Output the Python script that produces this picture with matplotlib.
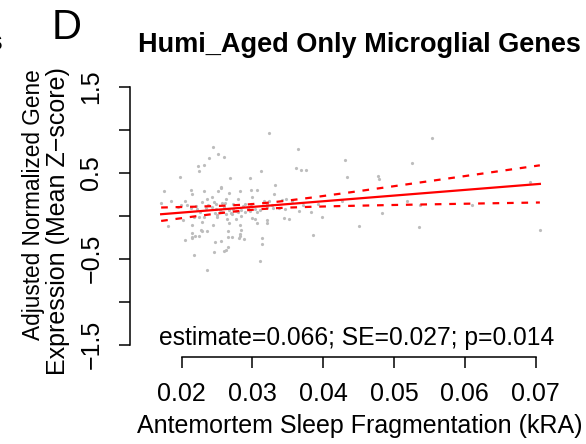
import numpy as np
import matplotlib
matplotlib.use("Agg")
import matplotlib.pyplot as plt

plt.rcParams['font.family'] = ['Liberation Sans', 'DejaVu Sans']
plt.rcParams['lines.scale_dashes'] = False

# ---- data -------------------------------------------------------------
sleep_frag = [
    0.0323, 0.0244, 0.0365, 0.0252, 0.0260, 0.0239, 0.0223, 0.0231, 0.0225, 0.0361,
    0.0369, 0.0376, 0.0312, 0.0431, 0.0197, 0.0268, 0.0297, 0.0434, 0.0332, 0.0256,
    0.0255, 0.0175, 0.0213, 0.0215, 0.0231, 0.0251, 0.0282, 0.0298, 0.0306, 0.0267,
    0.0243, 0.0236, 0.0300, 0.0331, 0.0171, 0.0185, 0.0205, 0.0229, 0.0245, 0.0262,
    0.0279, 0.0317, 0.0323, 0.0342, 0.0348, 0.0356, 0.0199, 0.0207, 0.0220, 0.0237,
    0.0248, 0.0257, 0.0261, 0.0273, 0.0289, 0.0286, 0.0298, 0.0321, 0.0327, 0.0393,
    0.0426, 0.0195, 0.0213, 0.0221, 0.0234, 0.0243, 0.0248, 0.0254, 0.0260, 0.0267,
    0.0273, 0.0277, 0.0284, 0.0293, 0.0304, 0.0311, 0.0321, 0.0329, 0.0337, 0.0346,
    0.0372, 0.0226, 0.0247, 0.0250, 0.0257, 0.0263, 0.0269, 0.0280, 0.0289, 0.0297,
    0.0306, 0.0366, 0.0383, 0.0180, 0.0202, 0.0218, 0.0225, 0.0232, 0.0229, 0.0250,
    0.0264, 0.0271, 0.0277, 0.0284, 0.0299, 0.0304, 0.0306, 0.0320, 0.0321, 0.0345,
    0.0351, 0.0398, 0.0214, 0.0244, 0.0267, 0.0283, 0.0227, 0.0229, 0.0236, 0.0284,
    0.0214, 0.0214, 0.0215, 0.0219, 0.0225, 0.0266, 0.0266, 0.0271, 0.0282, 0.0283,
    0.0281, 0.0288, 0.0313, 0.0205, 0.0247, 0.0255, 0.0385, 0.0313, 0.0265, 0.0263,
    0.0260, 0.0246, 0.0217, 0.0311, 0.0236, 0.0451, 0.0554, 0.0526, 0.0478, 0.0479,
    0.0692, 0.0519, 0.0537, 0.0610, 0.0483, 0.0535, 0.0706,
]
expression_z = [
    0.969, 0.806, 0.783, 0.725, 0.690, 0.678, 0.585, 0.597, 0.527, 0.562,
    0.539, 0.539, 0.527, 0.655, 0.457, 0.446, 0.446, 0.457, 0.364, 0.333,
    0.329, 0.287, 0.298, 0.260, 0.287, 0.287, 0.287, 0.306, 0.306, 0.271,
    0.217, 0.194, 0.221, 0.260, 0.147, 0.171, 0.171, 0.159, 0.167, 0.194,
    0.194, 0.178, 0.171, 0.190, 0.194, 0.178, 0.128, 0.124, 0.120, 0.128,
    0.143, 0.147, 0.147, 0.143, 0.143, 0.112, 0.136, 0.136, 0.124, 0.136,
    0.178, 0.101, 0.089, 0.074, 0.089, 0.101, 0.085, 0.070, 0.101, 0.066,
    0.078, 0.058, 0.066, 0.097, 0.085, 0.066, 0.101, 0.097, 0.089, 0.078,
    0.128, 0.043, 0.031, 0.008, 0.039, 0.027, 0.035, 0.050, 0.039, 0.054,
    0.050, 0.054, 0.039, -0.120, -0.050, -0.012, -0.016, -0.016, -0.066, -0.008,
    -0.035, 0.023, -0.031, -0.004, -0.027, -0.039, -0.078, -0.054, -0.078, -0.027,
    -0.039, -0.008, -0.112, -0.112, -0.085, -0.105, -0.159, -0.171, -0.171, -0.163,
    -0.205, -0.244, -0.260, -0.236, -0.236, -0.182, -0.248, -0.248, -0.213, -0.240,
    -0.256, -0.271, -0.260, -0.287, -0.306, -0.298, -0.225, -0.329, -0.368, -0.399,
    -0.411, -0.426, -0.457, -0.531, -0.636, -0.116, 0.903, 0.613, 0.462, 0.427,
    0.392, 0.171, 0.121, 0.121, 0.031, -0.131, -0.170,
]

# model summary (estimate and SE are per 0.01 kRA)
estimate = 0.066
std_err = 0.027
p_value = 0.014
intercept = -0.094
x_center = 0.0304      # mean kRA
se_at_center = 0.0168  # SE of the fitted mean
t_crit = 1.97

x_ticks = [0.02, 0.03, 0.04, 0.05, 0.06, 0.07]
x_tick_labels = ["0.02", "0.03", "0.04", "0.05", "0.06", "0.07"]
y_ticks = [-1.5, -1.0, -0.5, 0.0, 0.5, 1.0, 1.5]
y_tick_labels = ["\u22121.5", "", "\u22120.5", "", "0.5", "", "1.5"]

title = "Humi_Aged Only Microglial Genes"
panel_letter = "D"
x_label = "Antemortem Sleep Fragmentation (kRA)"
y_label_1 = "Adjusted Normalized Gene"
y_label_2 = "Expression (Mean Z\u2212score)"

# ---- figure -----------------------------------------------------------
W, H = 586, 444
fig = plt.figure(figsize=(W / 100, H / 100), dpi=100)


def fx(px):
    return px / W


def fy(py):
    return 1 - py / H


FS = 18
ax_l, ax_r, ax_t, ax_b = 130, 588, 76.2, 356.7
ax = fig.add_axes([fx(ax_l), fy(ax_b), (ax_r - ax_l) / W, (ax_b - ax_t) / H])
ax.set_xlim(0.0127, 0.0774)
ax.set_ylim(-1.640, 1.626)

ax.plot(sleep_frag, expression_z, 'o', ms=2.3, color='#bdbdbd', mec='none', zorder=2)

slope = estimate / 0.01
se_slope = std_err / 0.01
xs = np.linspace(min(sleep_frag), max(sleep_frag), 200)
fit = intercept + slope * xs
half = t_crit * np.sqrt(se_at_center ** 2 + ((xs - x_center) * se_slope) ** 2)

ax.plot(xs, fit, color='#ff0000', lw=1.6, zorder=3)
ax.plot(xs, fit + half, color='#ff0000', lw=1.6, dashes=(4.8, 5.6), zorder=3)
ax.plot(xs, fit - half, color='#ff0000', lw=1.6, dashes=(4.8, 5.6), zorder=3)

for s in ('top', 'right'):
    ax.spines[s].set_visible(False)
for s in ('left', 'bottom'):
    ax.spines[s].set_linewidth(1.1)
ax.spines['bottom'].set_bounds(0.02, 0.07)
ax.spines['left'].set_bounds(-1.5, 1.5)

ax.set_xticks(x_ticks)
ax.set_xticklabels(x_tick_labels)
ax.set_yticks(y_ticks)
ax.set_yticklabels(y_tick_labels, rotation=90, va='center')
ax.tick_params(axis='both', length=8.2, width=1.1, labelsize=FS, color='black')
ax.tick_params(axis='x', pad=10.0)
ax.tick_params(axis='y', pad=11.0)

fig.text(fx(357), fy(338), f"estimate={estimate:.3f}; SE={std_err:.3f}; p={p_value:.3f}",
         ha='center', va='center', fontsize=17.7)
fig.text(fx(360), fy(433), x_label, ha='center', va='baseline', fontsize=FS)
fig.text(fx(40), fy(205), y_label_1, rotation=90, rotation_mode='anchor',
         ha='center', va='baseline', fontsize=16.3)
fig.text(fx(65), fy(221), y_label_2, rotation=90, rotation_mode='anchor',
         ha='center', va='baseline', fontsize=FS)
fig.text(fx(359.5), fy(52), title, ha='center', va='baseline', fontsize=19.5,
         fontweight='bold')
fig.text(fx(67), fy(39), panel_letter, ha='center', va='baseline', fontsize=30)
fig.text(fx(3.5), fy(50), "Genes", ha='right', va='baseline', fontsize=19.5,
         fontweight='bold')

fig.savefig("out.png", dpi=100)
